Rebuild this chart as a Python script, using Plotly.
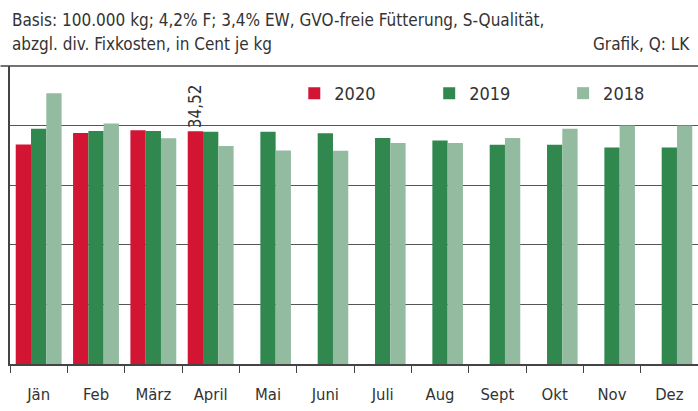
import plotly.graph_objects as go

months = ["Jän", "Feb", "März", "April", "Mai", "Juni", "Juli", "Aug", "Sept", "Okt", "Nov", "Dez"]
v2020 = [33.41, 34.37, 34.60, 34.52, None, None, None, None, None, None, None, None]
v2019 = [34.73, 34.54, 34.54, 34.48, 34.48, 34.35, 33.95, 33.76, 33.39, 33.39, 33.17, 33.17]
v2018 = [37.72, 35.18, 33.93, 33.28, 32.92, 32.90, 33.53, 33.53, 33.95, 34.73, 35.00, 35.00]
labels2020 = ["", "", "", "34,52", "", "", "", "", "", "", "", ""]

FONT = "DejaVu Sans Condensed, Liberation Sans Narrow, sans-serif"
TXT = "#333333"

W, H = 698, 411
ML, MR, MT, MB = 9.5, 0, 66, 46.7
PW = W - ML - MR
PH = H - MT - MB

def px_x(px):
    return (px - ML) / PW

def px_y(py):
    return (H - MB - py) / PH

fig = go.Figure()
fig.add_trace(go.Bar(x=months, y=v2020, name="2020", marker=dict(color="#D31534", line=dict(width=0)),
                     text=labels2020, textposition="outside", textangle=-90, constraintext="none",
                     textfont=dict(family=FONT, size=17, color=TXT), cliponaxis=False, legend="legend"))
fig.add_trace(go.Bar(x=months, y=v2019, name="2019", marker=dict(color="#31884F", line=dict(width=0)),
                     legend="legend2"))
fig.add_trace(go.Bar(x=months, y=v2018, name="2018", marker=dict(color="#93BBA0", line=dict(width=0)),
                     legend="legend3"))

def leg(text_start_px):
    return dict(x=px_x(text_start_px - 40), xanchor="left", y=px_y(93.5), yanchor="middle",
                xref="paper", yref="paper", orientation="h", bgcolor="rgba(0,0,0,0)",
                font=dict(family=FONT, size=18, color=TXT), borderwidth=0)

fig.update_layout(
    width=W, height=H,
    margin=dict(l=ML, r=MR, t=MT, b=MB, pad=0),
    paper_bgcolor="white", plot_bgcolor="white",
    barmode="group", bargap=0.2, bargroupgap=0,
    showlegend=True,
    legend=leg(334), legend2=leg(469), legend3=leg(603),
    font=dict(family=FONT, size=18, color=TXT),
    xaxis=dict(showline=True, linecolor="#444444", linewidth=1.5, ticks="outside", tickson="boundaries",
               ticklen=7, tickcolor="#444444", tickwidth=1, showgrid=False, ticklabelstandoff=14,
               tickfont=dict(family=FONT, size=16.5, color=TXT)),
    yaxis=dict(range=[15, 40], dtick=5, tick0=15, showticklabels=False, showgrid=True,
               gridcolor="#555555", gridwidth=1, showline=True, linecolor="#444444", linewidth=1.5,
               ticks="", zeroline=False),
    shapes=[dict(type="line", xref="paper", yref="paper", x0=px_x(0), x1=1, y0=1, y1=1,
                 line=dict(color="#444444", width=1.5))],
    annotations=[
        dict(text="Basis: 100.000 kg; 4,2% F; 3,4% EW, GVO-freie Fütterung, S-Qualität,",
             xref="paper", yref="paper", x=px_x(9), y=px_y(19.5), xanchor="left", yanchor="middle",
             showarrow=False, font=dict(family=FONT, size=17, color=TXT)),
        dict(text="abzgl. div. Fixkosten, in Cent je kg",
             xref="paper", yref="paper", x=px_x(9), y=px_y(44), xanchor="left", yanchor="middle",
             showarrow=False, font=dict(family=FONT, size=17, color=TXT)),
        dict(text="Grafik, Q: LK",
             xref="paper", yref="paper", x=px_x(692), y=px_y(44), xanchor="right", yanchor="middle",
             showarrow=False, font=dict(family=FONT, size=17, color=TXT)),
    ],
)

fig.write_html("out.html")
